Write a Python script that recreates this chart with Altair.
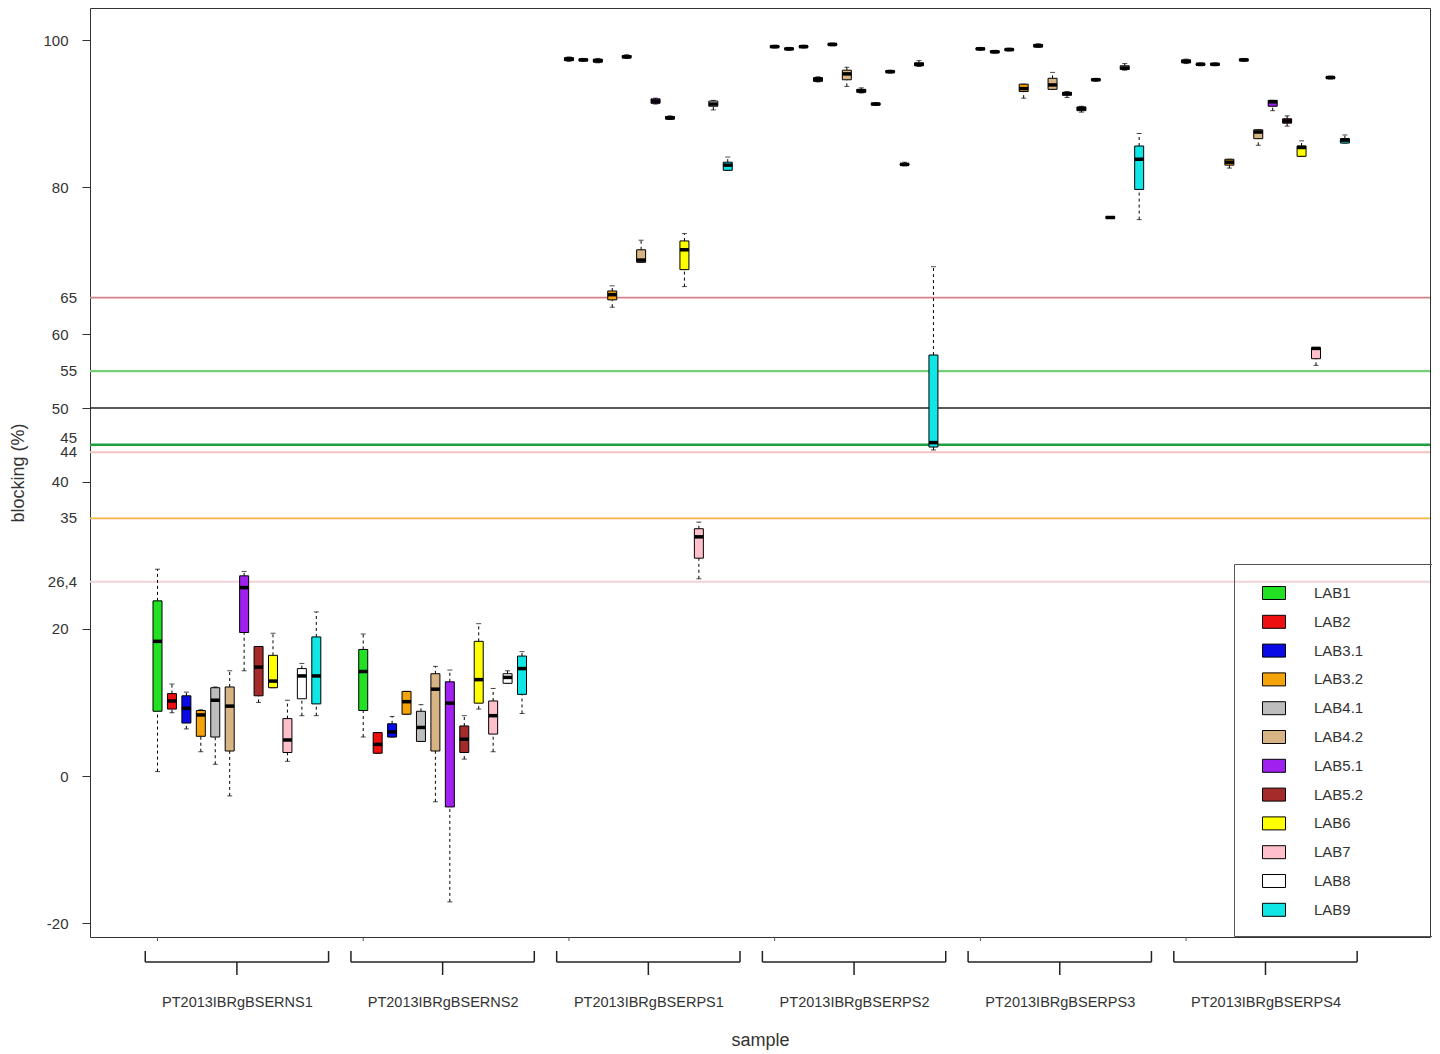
import json
import altair as alt
import pandas as pd

# ---------------- data ----------------
samples = ["PT2013IBRgBSERNS1", "PT2013IBRgBSERNS2", "PT2013IBRgBSERPS1",
           "PT2013IBRgBSERPS2", "PT2013IBRgBSERPS3", "PT2013IBRgBSERPS4"]
labs = ["LAB1", "LAB2", "LAB3.1", "LAB3.2", "LAB4.1", "LAB4.2",
        "LAB5.1", "LAB5.2", "LAB6", "LAB7", "LAB8", "LAB9"]
lab_colors = ["#22e022", "#ee1010", "#0a0ae6", "#f5a30a", "#bdbdbd", "#d8b384",
              "#a020f0", "#a52a2a", "#ffff00", "#ffc0cb", "#ffffff", "#10e6e6"]

# (whisker low, Q1, median, Q3, whisker high) per lab
ns1 = [(0.6, 8.8, 18.3, 23.8, 28.1), (8.6, 9.1, 10.2, 11.2, 12.5), (6.4, 7.2, 9.2, 10.9, 11.4),
       (3.3, 5.4, 8.3, 8.9, 9.0), (1.6, 5.3, 10.3, 12.0, 12.1), (-2.7, 3.4, 9.5, 12.1, 14.3),
       (14.3, 19.5, 25.6, 27.2, 27.8), (10.0, 10.9, 14.8, 17.6, 17.6), (12.0, 12.0, 12.9, 16.4, 19.4),
       (2.0, 3.2, 4.9, 7.8, 10.3), (8.2, 10.5, 13.6, 14.6, 15.3), (8.2, 9.8, 13.6, 18.9, 22.3)]
ns2 = [(5.3, 8.9, 14.2, 17.2, 19.3), (3.1, 3.1, 4.3, 5.9, 5.9), (5.3, 5.3, 6.0, 7.1, 8.1),
       (8.4, 8.4, 10.1, 11.5, 11.5), (4.7, 4.7, 6.6, 8.8, 9.7), (-3.5, 3.4, 11.8, 13.9, 14.9),
       (-17.1, -4.2, 9.9, 12.8, 14.4), (2.3, 3.2, 5.0, 6.8, 8.2), (9.1, 9.9, 13.1, 18.3, 20.7),
       (3.3, 5.7, 8.2, 10.2, 11.9), (12.6, 12.6, 13.4, 13.9, 14.3), (8.5, 11.1, 14.6, 16.3, 16.9)]
ps1 = [(97.1, 97.2, 97.4, 97.6, 97.7), (97.1, 97.2, 97.3, 97.4, 97.5), (96.9, 97.0, 97.2, 97.4, 97.5),
       (63.7, 64.7, 65.4, 65.9, 66.6), (97.5, 97.6, 97.7, 97.9, 98.0), (69.8, 69.8, 70.1, 71.5, 72.8),
       (91.3, 91.4, 91.7, 92.0, 92.1), (89.2, 89.3, 89.4, 89.6, 89.7), (66.5, 68.8, 71.5, 72.7, 73.7),
       (26.8, 29.6, 32.5, 33.6, 34.5), (90.5, 91.0, 91.3, 91.7, 91.8), (82.3, 82.3, 83.0, 83.4, 84.1)]
ps2 = [(98.9, 99.0, 99.1, 99.2, 99.3), (98.6, 98.7, 98.8, 98.9, 99.0), (98.9, 99.0, 99.1, 99.2, 99.3),
       (94.3, 94.4, 94.6, 94.9, 95.0), (99.2, 99.3, 99.4, 99.5, 99.6), (93.7, 94.6, 95.4, 95.9, 96.3),
       (92.8, 92.9, 93.1, 93.3, 93.5), (91.1, 91.2, 91.3, 91.4, 91.5), (95.5, 95.6, 95.7, 95.8, 95.9),
       (82.9, 83.0, 83.1, 83.2, 83.4), (96.4, 96.5, 96.7, 96.9, 97.2), (44.3, 44.7, 45.3, 57.2, 69.2)]
ps3 = [(98.6, 98.7, 98.8, 98.9, 99.0), (98.2, 98.3, 98.4, 98.5, 98.6), (98.5, 98.6, 98.7, 98.8, 98.9),
       (92.1, 93.0, 93.4, 94.0, 94.0), (99.0, 99.1, 99.2, 99.4, 99.5), (93.3, 93.3, 93.9, 94.8, 95.6),
       (92.2, 92.5, 92.7, 92.9, 93.0), (90.2, 90.4, 90.7, 90.9, 91.0), (94.4, 94.5, 94.6, 94.7, 94.8),
       (75.8, 75.8, 75.9, 76.0, 76.0), (95.9, 96.0, 96.2, 96.5, 96.8), (75.6, 79.7, 83.8, 85.6, 87.3)]
ps4 = [(96.8, 96.9, 97.1, 97.3, 97.4), (96.5, 96.6, 96.7, 96.8, 96.9), (96.5, 96.6, 96.7, 96.8, 96.9),
       (82.6, 83.0, 83.4, 83.8, 83.8), (97.1, 97.2, 97.3, 97.4, 97.5), (85.7, 86.6, 87.5, 87.8, 87.8),
       (90.4, 91.0, 91.6, 91.8, 91.8), (88.3, 88.7, 89.0, 89.3, 89.7), (84.2, 84.2, 85.4, 85.6, 86.3),
       (55.8, 56.7, 58.1, 58.2, 58.2), (94.7, 94.8, 94.9, 95.0, 95.1), (86.0, 86.0, 86.4, 86.6, 87.1)]
stats_by_sample = [ns1, ns2, ps1, ps2, ps3, ps4]

# cut-off reference lines
ref_values = [65, 55, 50, 45, 44, 35, 26.4]
ref_colors = ["#d8808e", "#74d074", "#222222", "#1e9e3e", "#f3c4c4", "#f6b44a", "#f2d2d8"]
ref_widths = [1.8, 2.2, 1.5, 2.5, 2.0, 1.8, 2.0]

y_tick_values = [-20, 0, 20, 40, 50, 60, 80, 100]
extra_values = [65, 55, 45, 44, 35, 26.4]
extra_labels = ["65", "55", "45", "44", "35", "26,4"]

# ---------------- tables ----------------
G = 14.25  # spacing between groups in box units
rows = []
for g, (s, stats) in enumerate(zip(samples, stats_by_sample)):
    for i, (lab, st) in enumerate(zip(labs, stats)):
        lo, q1, med, q3, hi = st
        rows.append(dict(sample=s, lab=lab, pos=g * G + i, lo=lo, q1=q1, med=med, q3=q3, hi=hi))
df = pd.DataFrame(rows)

groups = pd.DataFrame([dict(sample=s, first=g * G, center=g * G + 5.5,
                            left=g * G - 0.85, right=g * G + 11.85)
                       for g, s in enumerate(samples)])
ref_df = pd.DataFrame(dict(value=ref_values, color=ref_colors, w=ref_widths))
extra_df = pd.DataFrame(dict(value=extra_values, label=extra_labels))

# ---------------- scales / axes ----------------
FONT = "Liberation Sans"
xscale = alt.Scale(domain=[-4.33, 87.8], nice=False, zero=False)
yscale = alt.Scale(domain=[-21.87, 104.35], nice=False, zero=False)

xaxis = alt.Axis(values=list(groups["center"]), title="sample",
                 labelExpr=f"{json.dumps(samples)}[round((datum.value - 5.5) / {G})]",
                 tickSize=0, domain=False, grid=False, labelPadding=58,
                 labelFontSize=14.5, labelColor="#333", titleFontSize=18,
                 titleFontWeight="normal", titleColor="#333", titlePadding=23,
                 labelFont=FONT, titleFont=FONT)
yaxis = alt.Axis(values=y_tick_values, title="blocking (%)", tickSize=8, tickColor="#333",
                 labelExpr="'' + datum.value",
                 domain=False, grid=False, labelPadding=14, labelFontSize=15,
                 labelColor="#333", titleFontSize=18, titleFontWeight="normal",
                 titleColor="#333", titlePadding=15, labelFont=FONT, titleFont=FONT)

X = lambda f: alt.X(f"{f}:Q", scale=xscale, axis=xaxis)
Y = lambda f: alt.Y(f"{f}:Q", scale=yscale, axis=yaxis)

ref_lines = alt.Chart(ref_df).mark_rule().encode(
    y=Y("value"),
    color=alt.Color("color:N", scale=None),
    strokeWidth=alt.StrokeWidth("w:Q", scale=None),
)

base = alt.Chart(df)
whisk_lo = base.mark_rule(color="black", strokeWidth=1, strokeDash=[3, 3]).encode(
    x=X("pos"), y=Y("lo"), y2="q1")
whisk_hi = base.mark_rule(color="black", strokeWidth=1, strokeDash=[3, 3]).encode(
    x=X("pos"), y=Y("q3"), y2="hi")
cap_lo = base.mark_tick(orient="horizontal", size=5, thickness=1, color="black").encode(
    x=X("pos"), y=Y("lo"))
cap_hi = base.mark_tick(orient="horizontal", size=5, thickness=1, color="black").encode(
    x=X("pos"), y=Y("hi"))

legend = alt.Legend(
    orient="none", legendX=1144, legendY=556, title=None,
    symbolType="M-1,-0.565L1,-0.565L1,0.565L-1,0.565Z", symbolSize=529,
    symbolStrokeColor="black", symbolStrokeWidth=1, symbolOpacity=1,
    labelFontSize=15, labelFont=FONT, labelColor="#333",
    rowPadding=7.8, padding=17, symbolOffset=11, labelOffset=28,
    strokeColor="#555", labelExpr="datum.label + '" + "\u2800" * 5 + "'",
)
boxes = base.mark_bar(size=9, stroke="black", strokeWidth=1, opacity=1).encode(
    x=X("pos"), y=Y("q1"), y2="q3",
    fill=alt.Fill("lab:N", scale=alt.Scale(domain=labs, range=lab_colors), legend=legend),
)
medians = base.mark_tick(orient="horizontal", size=9, thickness=3.5, color="black", opacity=1).encode(
    x=X("pos"), y=Y("med"))

# braces under the axis grouping each sample
gb = alt.Chart(groups)
brace_h = gb.mark_rule(color="#222", strokeWidth=1.5).encode(
    x=X("left"), x2="right", y=alt.value(954))
brace_l = gb.mark_rule(color="#222", strokeWidth=1.5).encode(
    x=X("left"), y=alt.value(943), y2=alt.value(954))
brace_r = gb.mark_rule(color="#222", strokeWidth=1.5).encode(
    x=X("right"), y=alt.value(943), y2=alt.value(954))
brace_c = gb.mark_rule(color="#222", strokeWidth=1.5).encode(
    x=X("center"), y=alt.value(954), y2=alt.value(967))
group_ticks = gb.mark_rule(color="#555", strokeWidth=1).encode(
    x=X("first"), y=alt.value(929), y2=alt.value(933))

# extra labels for the cut-off lines on the y axis
extra_main = alt.Chart(extra_df).transform_filter("datum.value != 45").mark_text(
    align="right", baseline="middle", fontSize=15, font=FONT, color="#333").encode(
    x=alt.value(-13), y=Y("value"), text="label:N")
extra_45 = alt.Chart(extra_df).transform_filter("datum.value == 45").mark_text(
    align="right", baseline="middle", fontSize=15, font=FONT, color="#333", dy=-7).encode(
    x=alt.value(-13), y=Y("value"), text="label:N")

chart = alt.layer(
    ref_lines, whisk_lo, whisk_hi, cap_lo, cap_hi, boxes, medians,
    brace_h, brace_l, brace_r, brace_c, group_ticks, extra_main, extra_45,
).properties(
    width=1340, height=929,
    autosize=alt.AutoSizeParams(type="none"),
    padding={"left": 82, "top": 0, "right": 2, "bottom": 116},
).configure(font=FONT).configure_view(stroke="#333", strokeWidth=1)

chart.save("out.html", embed_options={"renderer": "svg", "actions": False})
